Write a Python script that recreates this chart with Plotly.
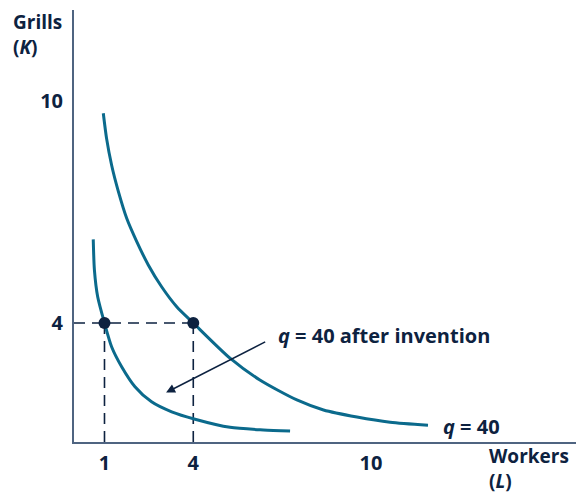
import plotly.graph_objects as go

# Isoquant q = 40 before the invention (workers L, grills K)
L_q40 = [0.96, 1.07, 1.24, 1.47, 1.75, 2.09, 2.48, 2.93, 3.44, 4.0, 5.24, 6.25, 7.50, 8.40, 9.53, 10.65, 11.93]
K_q40 = [9.67, 8.99, 8.27, 7.55, 6.83, 6.20, 5.57, 4.98, 4.44, 4.0, 3.05, 2.46, 1.92, 1.65, 1.46, 1.32, 1.24]

# Isoquant q = 40 after the invention
L_new = [0.62, 0.66, 0.77, 1.0, 1.24, 1.58, 2.03, 2.59, 3.27, 4.06, 5.24, 6.37, 7.27]
K_new = [6.26, 5.43, 4.71, 4.0, 3.36, 2.82, 2.28, 1.87, 1.60, 1.40, 1.18, 1.11, 1.08]

# Highlighted input bundles
pts_L = [1, 4]
pts_K = [4, 4]

x_ticks = [1, 4, 10]
y_ticks = [4, 10]

# Arrow from the label to the new isoquant
arrow_tail = (6.48, 3.51)
arrow_head = (3.08, 2.12)

X_MIN, X_MAX = -0.03, 16.93
Y_MIN, Y_MAX = 0.784, 12.46

CURVE = "#0b6a8c"
NAVY = "#0d2240"
AXIS = "#4f6481"
FONT = "Open Sans"
FS = 20

fig = go.Figure()

# Dashed guides from the points to the axes
dash = dict(color=NAVY, width=1.6, dash="11px,7px")
fig.add_trace(go.Scatter(x=[X_MIN, pts_L[1]], y=[pts_K[0], pts_K[1]], mode="lines",
                         line=dash, hoverinfo="skip"))
for lx, ky in zip(pts_L, pts_K):
    fig.add_trace(go.Scatter(x=[lx, lx], y=[ky, Y_MIN], mode="lines",
                             line=dash, hoverinfo="skip"))

fig.add_trace(go.Scatter(x=L_q40, y=K_q40, mode="lines",
                         line=dict(color=CURVE, width=3, shape="spline", smoothing=0.7)))
fig.add_trace(go.Scatter(x=L_new, y=K_new, mode="lines",
                         line=dict(color=CURVE, width=3, shape="spline", smoothing=0.7)))
fig.add_trace(go.Scatter(x=pts_L, y=pts_K, mode="markers",
                         marker=dict(color=NAVY, size=12)))

fig.add_annotation(x=arrow_head[0], y=arrow_head[1], ax=arrow_tail[0], ay=arrow_tail[1],
                   xref="x", yref="y", axref="x", ayref="y", text="",
                   showarrow=True, arrowhead=2, arrowsize=1.2, arrowwidth=1.5,
                   arrowcolor=NAVY, standoff=0)


def px_note(xp, yp, text, size=FS):
    # position given in page pixels of the 576x494 canvas
    fig.add_annotation(x=(xp - 74) / 502, y=(442 - yp) / 432, xref="paper", yref="paper",
                       text=text, showarrow=False, xanchor="left", yanchor="middle",
                       align="left", font=dict(family=FONT, size=size, color=NAVY))


px_note(276, 335, "<b><i>q</i> = 40 after invention</b>")
px_note(441, 426, "<b><i>q</i> = 40</b>")
px_note(487, 468, "<b>Workers<br>(<i>L</i>)</b>", size=19)
px_note(11, 35, "<b>Grills<br>(<i>K</i>)</b>", size=19)

fig.update_xaxes(range=[X_MIN, X_MAX], tickvals=x_ticks, ticktext=[f"<b>{v}</b>" for v in x_ticks],
                 showgrid=False, zeroline=False, showline=True, linecolor=AXIS, linewidth=2,
                 ticks="outside", ticklen=2, tickcolor="rgba(0,0,0,0)",
                 tickfont=dict(family=FONT, size=FS, color=NAVY))
fig.update_yaxes(range=[Y_MIN, Y_MAX], tickvals=y_ticks, ticktext=[f"<b>{v}</b>" for v in y_ticks],
                 showgrid=False, zeroline=False, showline=True, linecolor=AXIS, linewidth=2,
                 ticks="outside", ticklen=5, tickcolor="rgba(0,0,0,0)",
                 tickfont=dict(family=FONT, size=FS, color=NAVY))

fig.update_layout(width=576, height=494, margin=dict(l=74, r=0, t=10, b=52),
                  paper_bgcolor="white", plot_bgcolor="white", showlegend=False)

fig.write_html("out.html")
